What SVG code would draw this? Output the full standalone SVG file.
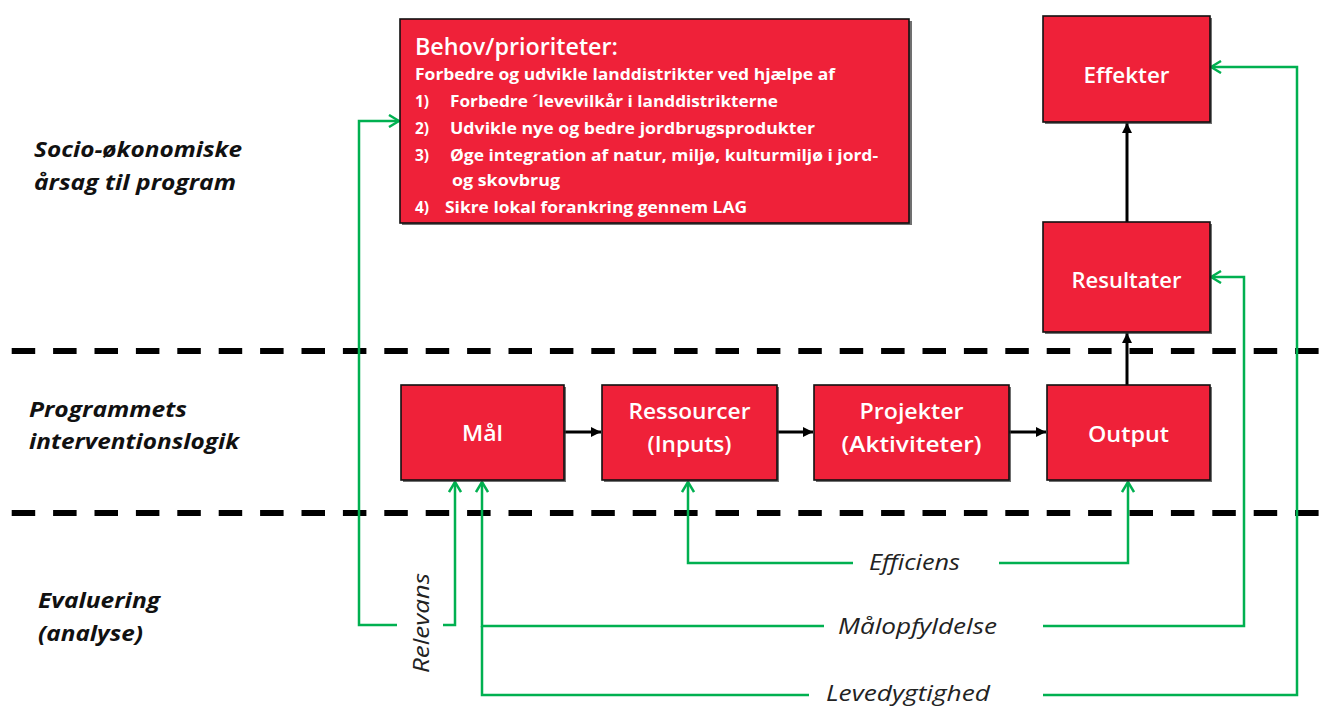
<svg xmlns="http://www.w3.org/2000/svg" width="1335" height="706" viewBox="0 0 1335 706">
<defs>
<style>
.box{fill:#EF2139;stroke:#111;stroke-width:1.6}
.shadow{fill:#333;opacity:0.7}
.bt{font-family:"Open Sans","Noto Sans",sans-serif;font-weight:600;font-size:22px;fill:#fff;text-anchor:middle}
.bh{font-family:"Open Sans","Noto Sans",sans-serif;font-weight:600;font-size:24px;fill:#fff}
.bl{font-family:"Open Sans","Noto Sans",sans-serif;font-weight:700;font-size:15.5px;fill:#fff}
.lab{font-family:"Open Sans","Noto Sans",sans-serif;font-weight:700;font-style:italic;font-size:21px;fill:#111}
.ev{font-family:"Open Sans","Noto Sans",sans-serif;font-style:italic;font-size:21px;fill:#222}
.dash{stroke:#000;stroke-width:6;stroke-dasharray:23.5 17.9;fill:none}
.g{stroke:#00B050;stroke-width:2.5;fill:none}
.k{stroke:#000;stroke-width:3;fill:none}
</style>
<marker id="ga" viewBox="0 0 12 14" refX="11" refY="7" markerWidth="12" markerHeight="14" markerUnits="userSpaceOnUse" orient="auto">
<path d="M1,1 L11,7 L1,13" fill="none" stroke="#00B050" stroke-width="2.5"/>
</marker>
<marker id="ka" viewBox="0 0 10 10" refX="10" refY="5" markerWidth="10" markerHeight="10" markerUnits="userSpaceOnUse" orient="auto">
<path d="M0,0 L10,5 L0,10 Z" fill="#000"/>
</marker>
</defs>
<rect width="1335" height="706" fill="#fff"/>

<g id="separators">
<line class="dash" x1="11.7" y1="351" x2="1335" y2="351"/>
<line class="dash" x1="11.7" y1="513" x2="1335" y2="513"/>
</g>

<g id="row-labels">
<text class="lab" x="34" y="157" textLength="208" lengthAdjust="spacingAndGlyphs">Socio-økonomiske</text>
<text class="lab" x="34" y="190" textLength="202" lengthAdjust="spacingAndGlyphs">årsag til program</text>
<text class="lab" x="29" y="417" textLength="158" lengthAdjust="spacingAndGlyphs">Programmets</text>
<text class="lab" x="29" y="449" textLength="210" lengthAdjust="spacingAndGlyphs">interventionslogik</text>
<text class="lab" x="38" y="608" textLength="122" lengthAdjust="spacingAndGlyphs">Evaluering</text>
<text class="lab" x="38" y="641" textLength="105" lengthAdjust="spacingAndGlyphs">(analyse)</text>
</g>

<g id="connectors">
<line class="k" x1="564" y1="432" x2="601" y2="432" marker-end="url(#ka)"/>
<line class="k" x1="777" y1="432" x2="813" y2="432" marker-end="url(#ka)"/>
<line class="k" x1="1009" y1="432" x2="1046" y2="432" marker-end="url(#ka)"/>
<line class="k" x1="1127" y1="385" x2="1127" y2="333" marker-end="url(#ka)"/>
<line class="k" x1="1127" y1="222" x2="1127" y2="123" marker-end="url(#ka)"/>
<path class="g" d="M397,625 H359 V121 H399" marker-end="url(#ga)"/>
<path class="g" d="M443,625 H455 V482" marker-end="url(#ga)"/>
<path class="g" d="M824,626 H482 V482" marker-end="url(#ga)"/>
<path class="g" d="M809,695 H482 V626"/>
<path class="g" d="M853,563 H688 V482" marker-end="url(#ga)"/>
<path class="g" d="M999,563 H1128 V482" marker-end="url(#ga)"/>
<path class="g" d="M1043,626 H1244 V277 H1211" marker-end="url(#ga)"/>
<path class="g" d="M1043,695 H1297 V67 H1211" marker-end="url(#ga)"/>
<text class="ev" x="914.5" y="570" text-anchor="middle" textLength="91" lengthAdjust="spacingAndGlyphs">Efficiens</text>
<text class="ev" x="917.5" y="634" text-anchor="middle" textLength="159" lengthAdjust="spacingAndGlyphs">Målopfyldelse</text>
<text class="ev" x="908" y="701" text-anchor="middle" textLength="164" lengthAdjust="spacingAndGlyphs">Levedygtighed</text>
<text class="ev" transform="translate(429,623) rotate(-90)" text-anchor="middle" textLength="100" lengthAdjust="spacingAndGlyphs">Relevans</text>
</g>

<g id="behov">
<rect class="shadow" x="402" y="21" width="510" height="204"/>
<rect class="box" x="400" y="19" width="509" height="204"/>
<text class="bh" x="415" y="55" textLength="203" lengthAdjust="spacingAndGlyphs">Behov/prioriteter:</text>
<text class="bl" x="415" y="80" textLength="420" lengthAdjust="spacingAndGlyphs">Forbedre og udvikle landdistrikter ved hjælpe af</text>
<text class="bl" y="107"><tspan x="415">1)</tspan><tspan x="450" textLength="328" lengthAdjust="spacingAndGlyphs">Forbedre ´levevilkår i landdistrikterne</tspan></text>
<text class="bl" y="134"><tspan x="415">2)</tspan><tspan x="450" textLength="365" lengthAdjust="spacingAndGlyphs">Udvikle nye og bedre jordbrugsprodukter</tspan></text>
<text class="bl" y="161"><tspan x="415">3)</tspan><tspan x="450" textLength="428" lengthAdjust="spacingAndGlyphs">Øge integration af natur, miljø, kulturmiljø i jord-</tspan></text>
<text class="bl" x="452" y="186" textLength="108" lengthAdjust="spacingAndGlyphs">og skovbrug</text>
<text class="bl" y="213"><tspan x="415">4)</tspan><tspan x="445" textLength="302" lengthAdjust="spacingAndGlyphs">Sikre lokal forankring gennem LAG</tspan></text>
</g>

<g id="effekter">
<rect class="shadow" x="1045" y="18" width="167" height="106"/>
<rect class="box" x="1043" y="16" width="167" height="106"/>
<text class="bt" x="1126.5" y="83" textLength="86" lengthAdjust="spacingAndGlyphs">Effekter</text>
</g>

<g id="resultater">
<rect class="shadow" x="1045" y="224" width="167" height="110"/>
<rect class="box" x="1043" y="222" width="167" height="110"/>
<text class="bt" x="1126.5" y="288" textLength="110" lengthAdjust="spacingAndGlyphs">Resultater</text>
</g>

<g id="maal">
<rect class="shadow" x="403" y="387" width="163" height="95"/>
<rect class="box" x="401" y="385" width="163" height="95"/>
<text class="bt" x="482.5" y="441" textLength="41" lengthAdjust="spacingAndGlyphs">Mål</text>
</g>

<g id="ressourcer">
<rect class="shadow" x="604" y="387" width="175" height="95"/>
<rect class="box" x="602" y="385" width="175" height="95"/>
<text class="bt" x="689.5" y="419" textLength="122" lengthAdjust="spacingAndGlyphs">Ressourcer</text>
<text class="bt" x="689.5" y="452" textLength="84" lengthAdjust="spacingAndGlyphs">(Inputs)</text>
</g>

<g id="projekter">
<rect class="shadow" x="816" y="387" width="195" height="95"/>
<rect class="box" x="814" y="385" width="195" height="95"/>
<text class="bt" x="911.5" y="419" textLength="104" lengthAdjust="spacingAndGlyphs">Projekter</text>
<text class="bt" x="911.5" y="452" textLength="140" lengthAdjust="spacingAndGlyphs">(Aktiviteter)</text>
</g>

<g id="output">
<rect class="shadow" x="1049" y="387" width="163" height="95"/>
<rect class="box" x="1047" y="385" width="163" height="95"/>
<text class="bt" x="1128.5" y="442" textLength="81" lengthAdjust="spacingAndGlyphs">Output</text>
</g>
</svg>
